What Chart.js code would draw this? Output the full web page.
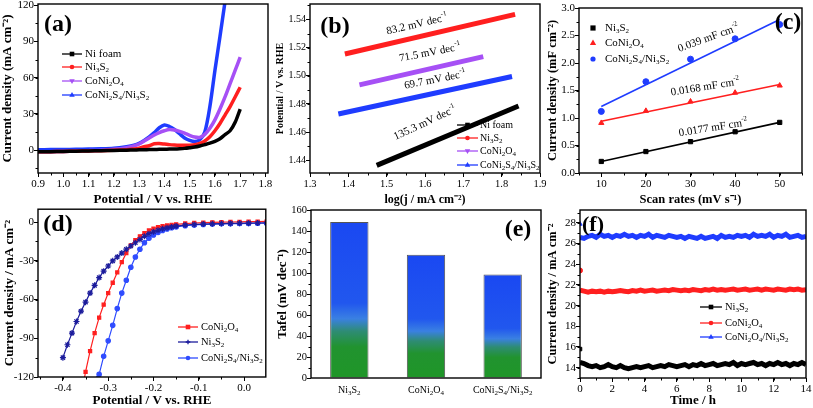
<!DOCTYPE html>
<html lang="en">
<head>
<meta charset="UTF-8">
<title>Electrocatalyst panels</title>
<script src="https://cdn.jsdelivr.net/npm/chart.js"></script>
<style>
    body { margin: 0; background: #fff; }
    #wrap { position: relative; width: 813px; height: 408px; overflow: hidden; }
    canvas { position: absolute; }
</style>
</head>
<body>
<div id="wrap">
    <canvas id="cA" width="280" height="210" style="left:0;top:0"></canvas>
    <canvas id="cB" width="280" height="210" style="left:271px;top:0"></canvas>
    <canvas id="cC" width="271" height="210" style="left:542px;top:0"></canvas>
    <canvas id="cD" width="271" height="204" style="left:0;top:204px"></canvas>
    <canvas id="cE" width="271" height="204" style="left:271px;top:204px"></canvas>
    <canvas id="cF" width="271" height="204" style="left:542px;top:204px"></canvas>
</div>
<script>
// (a) LSV curves
const potA = [0.90,0.95,1.00,1.05,1.10,1.15,1.20,1.25,1.28,1.30,1.32,1.34,1.36,1.38,1.40,1.42,1.44,1.46,1.48,1.50,1.52,1.54,1.56,1.58,1.60,1.62,1.64,1.66,1.68,1.70];
const niFoamA = [-1.5,-1.3,-1.1,-0.9,-0.7,-0.5,-0.3,-0.1,0.1,0.2,0.3,0.4,0.5,0.6,0.7,0.8,0.9,1.1,1.4,1.9,2.5,3.4,4.5,5.7,7.2,9.4,12.8,16,23,34];
const ni3s2A = [-1.5,-1.3,-1.1,-0.9,-0.7,-0.5,-0.2,0.3,0.8,1.5,2.8,3.6,5.2,5.4,5.0,4.5,4.2,4.0,3.9,4.0,4.4,5.5,7.5,11,16,22,29,36,44,52];
const coNi2O4A = [-1.5,-1.3,-1.1,-0.8,-0.5,-0.1,0.6,2.0,3.5,5,7.5,10,12.5,14.5,16,17,16.6,15.5,14,12.2,10.8,10.5,13,18,25,34,44,55,66,77];
const potBlueA = [0.90,0.95,1.00,1.05,1.10,1.15,1.20,1.25,1.28,1.30,1.32,1.34,1.36,1.38,1.40,1.42,1.44,1.46,1.48,1.50,1.52,1.54,1.56,1.58,1.60,1.62,1.64];
const coNi2S4A = [0.3,0.4,0.5,0.6,0.8,1.0,1.5,2.8,4.0,5.5,8,11,14.5,18.5,20.7,19.5,17,13.5,10,8,7,8.5,15,36,66,94,123];
const ticksAx = [0.9,1.0,1.1,1.2,1.3,1.4,1.5,1.6,1.7,1.8];
const ticksAy = [0,30,60,90,120];

// (b) Tafel lines (start, end)
const tafX_ni = [1.474, 1.844], tafY_ni = [1.4364, 1.4786];
const tafX_ni3s2 = [1.391, 1.835], tafY_ni3s2 = [1.5155, 1.5436];
const tafX_coO = [1.429, 1.752], tafY_coO = [1.4936, 1.5136];
const tafX_coS = [1.374, 1.827], tafY_coS = [1.4729, 1.4995];
const ticksBx = [1.3,1.4,1.5,1.6,1.7,1.8,1.9];
const ticksBy = [1.44,1.46,1.48,1.50,1.52,1.54];

// (c) double layer capacitance
const scan = [10,20,30,40,50];
const capNi3S2 = [0.21,0.39,0.57,0.75,0.92];
const capCoO = [0.91,1.13,1.30,1.46,1.59];
const capCoS = [1.12,1.66,2.07,2.44,2.70];
const fitX = [10,50];
const fitNi3S2 = [0.21,0.92];
const fitCoO = [0.94,1.61];
const fitCoS = [1.21,2.79];
const ticksCx = [10,20,30,40,50];
const ticksCy = [0,0.5,1.0,1.5,2.0,2.5,3.0];

// (d) HER polarization
const potD_coO = [-0.353,-0.35,-0.34,-0.33,-0.32,-0.31,-0.30,-0.29,-0.28,-0.27,-0.26,-0.25,-0.24,-0.23,-0.22,-0.21,-0.20,-0.19,-0.18,-0.17,-0.16,-0.15,-0.13,-0.11,-0.09,-0.07,-0.05,-0.03,-0.01,0.01,0.03,0.05];
const herCoO = [-122,-116,-100,-86,-74,-64,-55,-47,-39,-31,-24,-18,-14,-11,-8.5,-6.5,-5,-4,-3.2,-2.6,-2.1,-1.7,-1.1,-0.7,-0.4,-0.2,0,0.1,0.2,0.3,0.4,0.5];
const potD_ni3s2 = [-0.40,-0.39,-0.38,-0.37,-0.36,-0.35,-0.34,-0.33,-0.32,-0.31,-0.30,-0.29,-0.28,-0.27,-0.26,-0.25,-0.24,-0.23,-0.22,-0.21,-0.20,-0.19,-0.18,-0.17,-0.16,-0.15,-0.13,-0.11,-0.09,-0.07,-0.05,-0.03,-0.01,0.01,0.03,0.05];
const herNi3S2 = [-105,-95,-86,-77,-69,-62,-55,-49,-43,-38,-34,-30,-27,-24,-21,-18.5,-16,-13.5,-11,-9,-7.5,-6.3,-5.2,-4.4,-3.7,-3.1,-2.3,-1.8,-1.5,-1.3,-1.1,-1.0,-0.9,-0.8,-0.7,-0.6];
const potD_coS = [-0.322,-0.32,-0.31,-0.30,-0.29,-0.28,-0.27,-0.26,-0.25,-0.24,-0.23,-0.22,-0.21,-0.20,-0.19,-0.18,-0.17,-0.16,-0.15,-0.13,-0.11,-0.09,-0.07,-0.05,-0.03,-0.01,0.01,0.03,0.05];
const herCoS = [-121,-118,-104,-92,-80,-67,-55,-45,-35,-27,-21,-16,-12.5,-10,-8,-6.5,-5.3,-4.4,-3.7,-2.8,-2.2,-1.8,-1.5,-1.3,-1.2,-1.1,-1.0,-0.9,-0.8];
const ticksDx = [-0.4,-0.3,-0.2,-0.1,0.0];
const ticksDy = [-120,-90,-60,-30,0];

// (e) Tafel slopes
const tafelCats = ['Ni_3S_2', 'CoNi_2O_4', 'CoNi_2S_4/Ni_3S_2'];
const tafelVals = [148.5, 117.5, 98.5];
const ticksEy = [0,20,40,60,80,100,120,140,160];

// (f) stability
const times = [0,0.25,0.5,0.75,1,1.25,1.5,1.75,2,2.25,2.5,2.75,3,3.25,3.5,3.75,4,4.25,4.5,4.75,5,5.25,5.5,5.75,6,6.25,6.5,6.75,7,7.25,7.5,7.75,8,8.25,8.5,8.75,9,9.25,9.5,9.75,10,10.25,10.5,10.75,11,11.25,11.5,11.75,12,12.25,12.5,12.75,13,13.25,13.5,13.75,14];
const stabNi3S2 = [14.5,14.4,14.2,14.1,14.2,14.0,14.1,14.3,14.1,14.0,14.2,14.0,13.9,14.0,14.1,14.0,14.1,14.2,14.0,14.1,14.2,14.1,14.3,14.2,14.1,14.2,14.3,14.1,14.3,14.2,14.4,14.2,14.3,14.4,14.2,14.3,14.4,14.3,14.5,14.2,14.4,14.3,14.4,14.5,14.3,14.4,14.2,14.4,14.3,14.5,14.3,14.4,14.2,14.4,14.3,14.5,14.3];
const stabCoO = [21.5,21.4,21.3,21.4,21.35,21.4,21.3,21.4,21.35,21.4,21.45,21.4,21.35,21.45,21.4,21.5,21.4,21.45,21.5,21.4,21.45,21.5,21.45,21.55,21.5,21.45,21.5,21.45,21.55,21.5,21.45,21.55,21.5,21.6,21.5,21.55,21.5,21.55,21.6,21.5,21.55,21.6,21.5,21.55,21.6,21.5,21.6,21.55,21.5,21.6,21.55,21.5,21.6,21.55,21.6,21.5,21.55];
const stabCoS = [26.6,26.5,26.7,26.8,26.6,26.9,26.7,26.8,26.6,26.8,26.7,26.9,26.7,26.8,26.6,26.8,26.7,26.9,26.6,26.8,26.7,26.6,26.8,26.7,26.6,26.7,26.5,26.7,26.6,26.5,26.7,26.5,26.6,26.7,26.5,26.8,26.6,26.7,26.6,26.8,26.7,26.8,26.6,26.9,26.7,26.8,26.7,26.9,26.6,26.8,26.7,26.9,26.6,26.7,26.8,26.6,26.7];
const spikeT = [0];
const spikeNi3S2 = [15.8], spikeCoO = [23.4], spikeCoS = [27.9];
const ticksFx = [0,2,4,6,8,10,12,14];
const ticksFy = [14,16,18,20,22,24,26,28];

const FONT = "'Liberation Serif', 'Times New Roman', serif";
Chart.defaults.font.family = FONT;
Chart.defaults.color = '#000';

const pts = (xs, ys) => xs.map((x, i) => ({ x: x, y: ys[i] }));

// text with _x / ^{..} sub and superscripts
function parseRich(s) {
    const segs = [];
    let i = 0;
    while (i < s.length) {
        const c = s[i];
        if (c === '_' || c === '^') {
            let t;
            if (s[i + 1] === '{') { const j = s.indexOf('}', i); t = s.slice(i + 2, j); i = j + 1; }
            else { t = s[i + 1]; i += 2; }
            segs.push({ t: t, k: c });
        } else {
            let j = i;
            while (j < s.length && s[j] !== '_' && s[j] !== '^') j++;
            segs.push({ t: s.slice(i, j), k: '' });
            i = j;
        }
    }
    return segs;
}

function drawRich(ctx, s, x, y, size, o) {
    const segs = parseRich(s);
    const w = o.bold ? 'bold ' : '';
    const small = Math.round(size * 0.68);
    let total = 0;
    segs.forEach(g => {
        ctx.font = w + (g.k ? small : size) + 'px ' + FONT;
        g.w = ctx.measureText(g.t).width;
        total += g.w;
    });
    ctx.save();
    ctx.translate(x, y);
    if (o.rot) ctx.rotate(o.rot * Math.PI / 180);
    let cx = o.align === 'left' ? 0 : -total / 2;
    ctx.textBaseline = 'middle';
    ctx.textAlign = 'left';
    ctx.fillStyle = o.color || '#000';
    segs.forEach(g => {
        ctx.font = w + (g.k ? small : size) + 'px ' + FONT;
        const dy = g.k === '_' ? size * 0.3 : (g.k === '^' ? -size * 0.38 : 0);
        ctx.fillText(g.t, cx, dy);
        cx += g.w;
    });
    ctx.restore();
}

function marker(ctx, style, x, y, r, color) {
    ctx.fillStyle = color;
    ctx.strokeStyle = color;
    ctx.beginPath();
    if (style === 'rect') ctx.rect(x - r, y - r, 2 * r, 2 * r);
    else if (style === 'circle') ctx.arc(x, y, r, 0, Math.PI * 2);
    else if (style === 'triangle') { ctx.moveTo(x, y - r * 1.3); ctx.lineTo(x + r * 1.2, y + r * 0.8); ctx.lineTo(x - r * 1.2, y + r * 0.8); ctx.closePath(); }
    else if (style === 'tridown') { ctx.moveTo(x, y + r * 1.3); ctx.lineTo(x + r * 1.2, y - r * 0.8); ctx.lineTo(x - r * 1.2, y - r * 0.8); ctx.closePath(); }
    else if (style === 'star') {
        ctx.lineWidth = 1.3;
        ctx.moveTo(x - r, y); ctx.lineTo(x + r, y); ctx.moveTo(x, y - r); ctx.lineTo(x, y + r);
        ctx.stroke();
        return;
    }
    ctx.fill();
}

// frame, minor ticks, labels and legend drawn on top of each panel
function deco(cfg) {
    return {
        id: 'deco',
        afterDraw(ch) {
            const c = ch.ctx, a = ch.chartArea;
            c.save();
            c.strokeStyle = '#000';
            c.lineWidth = 1;
            if (cfg.minorX) {
                const s = ch.scales.x;
                for (let k = Math.ceil(s.min / cfg.minorX - 1e-6); k * cfg.minorX <= s.max + 1e-9; k++) {
                    const p = Math.round(s.getPixelForValue(k * cfg.minorX)) + 0.5;
                    c.beginPath(); c.moveTo(p, a.bottom); c.lineTo(p, a.bottom + 2.5); c.stroke();
                }
            }
            if (cfg.minorY) {
                const s = ch.scales.y;
                for (let k = Math.ceil(s.min / cfg.minorY - 1e-6); k * cfg.minorY <= s.max + 1e-9; k++) {
                    const p = Math.round(s.getPixelForValue(k * cfg.minorY)) + 0.5;
                    c.beginPath(); c.moveTo(a.left, p); c.lineTo(a.left - 2.5, p); c.stroke();
                }
            }
            c.lineWidth = 1.4;
            c.strokeRect(a.left, a.top, a.right - a.left, a.bottom - a.top);
            const lg = cfg.legend;
            if (lg) {
                lg.items.forEach((it, i) => {
                    const y = lg.ys[i];
                    if (lg.len) {
                        c.strokeStyle = it.color; c.lineWidth = 1.3;
                        c.beginPath(); c.moveTo(lg.x, y); c.lineTo(lg.x + lg.len, y); c.stroke();
                        marker(c, it.pt, lg.x + lg.len / 2, y, 2.3, it.color);
                    } else {
                        marker(c, it.pt, lg.x, y, 2.6, it.color);
                    }
                    drawRich(c, it.t, lg.tx, y, lg.size, { align: 'left' });
                });
            }
            (cfg.notes || []).forEach(n => {
                const x = n.dx !== undefined ? ch.scales.x.getPixelForValue(n.dx) : n.x;
                const y = n.dy !== undefined ? ch.scales.y.getPixelForValue(n.dy) : n.y;
                drawRich(c, n.t, x, y, n.size || 11, { bold: n.bold, rot: n.rot, color: n.color });
            });
            c.restore();
        }
    };
}

function ax(o) {
    const t = {
        type: o.type || 'linear',
        afterFit: s => {
            if (o.w !== undefined) s.width = o.w;
            if (o.h !== undefined) s.height = o.h;
            s.paddingLeft = 0; s.paddingRight = 0; s.paddingTop = 0; s.paddingBottom = 0;
        },
        grid: { drawOnChartArea: false, drawTicks: !o.noTicks, color: '#000', tickLength: 4 },
        border: { display: false },
        ticks: { display: !o.noLabels, color: '#000', font: { size: o.fs || 11 }, padding: o.tp !== undefined ? o.tp : 1, maxRotation: 0, autoSkip: false },
        title: { display: !!o.title, text: o.title || '', color: '#000', font: { size: o.ts || 13, weight: 'bold' },
                 padding: o.w !== undefined ? { top: o.tpad || 0, bottom: 0 } : { top: 0, bottom: o.tpad || 0 } }
    };
    if (o.min !== undefined) t.min = o.min;
    if (o.max !== undefined) t.max = o.max;
    if (o.ticks) t.afterBuildTicks = s => { s.ticks = o.ticks.map(v => ({ value: v })); };
    if (o.fmt) t.ticks.callback = o.fmt;
    return t;
}

function opts(pad, xs, ys) {
    return {
        responsive: false, animation: false, devicePixelRatio: 1,
        layout: { padding: { top: pad.top, right: pad.right, left: 0, bottom: 0 } },
        scales: { x: xs, y: ys },
        plugins: { legend: { display: false }, tooltip: { enabled: false } }
    };
}

const f1 = v => v.toFixed(1), f2 = v => v.toFixed(2), f0 = v => String(v);
const BLK = '#000000', RED = '#ff1f1f', PUR = '#a650f5', BLU = '#1f3cff', NAVY = '#1c1c9c';

// (a)
const lineA = (label, xs, ys, col) => ({ label: label, data: pts(xs, ys), showLine: true, borderColor: col, backgroundColor: col, borderWidth: 3.5, pointRadius: 0, tension: 0.3 });
new Chart(document.getElementById('cA'), {
    type: 'scatter',
    data: { datasets: [
        lineA('Ni foam', potA, niFoamA, BLK),
        lineA('Ni3S2', potA, ni3s2A, RED),
        lineA('CoNi2O4', potA, coNi2O4A, PUR),
        lineA('CoNi2S4/Ni3S2', potBlueA, coNi2S4A, BLU)
    ] },
    options: opts({ top: 4, right: 12 },
        ax({ min: 0.9, max: 1.81, ticks: ticksAx, fmt: f1, h: 37, title: 'Potential / V vs. RHE', tpad: 3 }),
        ax({ min: -19, max: 121, ticks: ticksAy, fmt: f0, w: 38, tp: 0, title: 'Current density (mA cm⁻²)' })),
    plugins: [deco({
        minorX: 0.05, minorY: 15,
        legend: { x: 62, len: 20, tx: 85, size: 11, ys: [54, 67, 81, 95], items: [
            { t: 'Ni foam', color: BLK, pt: 'rect' },
            { t: 'Ni_3S_2', color: RED, pt: 'circle' },
            { t: 'CoNi_2O_4', color: PUR, pt: 'tridown' },
            { t: 'CoNi_2S_4/Ni_3S_2', color: BLU, pt: 'triangle' }
        ] },
        notes: [{ t: '(a)', x: 58, y: 25, size: 24, bold: true }]
    })]
});

// (b)
const lineB = (xs, ys, col) => ({ data: pts(xs, ys), showLine: true, borderColor: col, borderWidth: 5, pointRadius: 0 });
new Chart(document.getElementById('cB'), {
    type: 'scatter',
    data: { datasets: [
        lineB(tafX_ni, tafY_ni, BLK),
        lineB(tafX_ni3s2, tafY_ni3s2, RED),
        lineB(tafX_coO, tafY_coO, PUR),
        lineB(tafX_coS, tafY_coS, BLU)
    ] },
    options: opts({ top: 4, right: 11 },
        ax({ min: 1.3, max: 1.9, ticks: ticksBx, fmt: f1, h: 37, fs: 10.5, ts: 12, title: 'log(j / mA cm⁻²)', tpad: 3 }),
        ax({ min: 1.431, max: 1.551, ticks: ticksBy, fmt: f2, w: 39, fs: 10, tp: 0, ts: 10, tpad: 3, title: 'Potential / V vs. RHE' })),
    plugins: [deco({
        minorX: 0.05, minorY: 0.01,
        legend: { x: 186, len: 21, tx: 209, size: 10, ys: [125, 138, 151, 165], items: [
            { t: 'Ni foam', color: BLK, pt: 'rect' },
            { t: 'Ni_3S_2', color: RED, pt: 'circle' },
            { t: 'CoNi_2O_4', color: PUR, pt: 'tridown' },
            { t: 'CoNi_2S_4/Ni_3S_2', color: BLU, pt: 'triangle' }
        ] },
        notes: [
            { t: '(b)', x: 64, y: 27, size: 24, bold: true },
            { t: '83.2 mV dec^{-1}', dx: 1.579, dy: 1.5364, rot: -13, size: 11 },
            { t: '71.5 mV dec^{-1}', dx: 1.613, dy: 1.5164, rot: -11, size: 11 },
            { t: '69.7 mV dec^{-1}', dx: 1.626, dy: 1.4971, rot: -11, size: 11 },
            { t: '135.3 mV dec^{-1}', dx: 1.600, dy: 1.4664, rot: -25, size: 11 }
        ]
    })]
});

// (c)
const dotC = (xs, ys, col, st) => ({ data: pts(xs, ys), showLine: false, backgroundColor: col, borderColor: col, pointStyle: st, pointRadius: 3 });
const fitC = (xs, ys, col) => ({ data: pts(xs, ys), showLine: true, borderColor: col, borderWidth: 1.6, pointRadius: 0 });
new Chart(document.getElementById('cC'), {
    type: 'scatter',
    data: { datasets: [
        fitC(fitX, fitNi3S2, BLK), fitC(fitX, fitCoO, RED), fitC(fitX, fitCoS, BLU),
        dotC(scan, capNi3S2, BLK, 'rect'),
        dotC(scan, capCoO, RED, 'triangle'),
        dotC(scan, capCoS, BLU, 'circle')
    ] },
    options: opts({ top: 8, right: 11 },
        ax({ min: 5, max: 55, ticks: ticksCx, fmt: f0, h: 37, ts: 12.5, title: 'Scan rates (mV s⁻¹)', tpad: 3 }),
        ax({ min: 0, max: 3, ticks: ticksCy, fmt: f1, w: 37, tp: 0, ts: 12.5, tpad: 3, title: 'Current density (mF cm⁻²)' })),
    plugins: [deco({
        minorX: 5, minorY: 0.25,
        legend: { x: 51, tx: 63, size: 11, ys: [28, 43, 59], items: [
            { t: 'Ni_3S_2', color: BLK, pt: 'rect' },
            { t: 'CoNi_2O_4', color: RED, pt: 'triangle' },
            { t: 'CoNi_2S_4/Ni_3S_2', color: BLU, pt: 'circle' }
        ] },
        notes: [
            { t: '(c)', x: 246, y: 23, size: 24, bold: true },
            { t: '0.039 mF cm^{-2}', dx: 34, dy: 2.45, rot: -20, size: 11 },
            { t: '0.0168 mF cm^{-2}', dx: 33.3, dy: 1.56, rot: -9, size: 11 },
            { t: '0.0177 mF cm^{-2}', dx: 35.1, dy: 0.82, rot: -9, size: 11 }
        ]
    })]
});

// (d)
const lineD = (xs, ys, col, st, r) => ({ data: pts(xs, ys), showLine: true, borderColor: col, backgroundColor: col, borderWidth: 1.2, pointStyle: st, pointRadius: r, pointBorderWidth: 1.2 });
new Chart(document.getElementById('cD'), {
    type: 'scatter',
    data: { datasets: [
        lineD(potD_ni3s2, herNi3S2, NAVY, 'star', 3),
        lineD(potD_coO, herCoO, RED, 'rect', 2.2),
        lineD(potD_coS, herCoS, '#2f4cff', 'circle', 2.2)
    ] },
    options: opts({ top: 4, right: 3 },
        ax({ min: -0.455, max: 0.048, ticks: ticksDx, fmt: f1, h: 31, title: 'Potential / V vs. RHE', tpad: 0 }),
        ax({ min: -120, max: 10, ticks: ticksDy, fmt: f0, w: 38, tp: 0, tpad: 2, title: 'Current density / mA cm⁻²' })),
    plugins: [deco({
        minorX: 0.05, minorY: 15,
        legend: { x: 178, len: 20, tx: 201, size: 10.5, ys: [123, 138, 154], items: [
            { t: 'CoNi_2O_4', color: RED, pt: 'rect' },
            { t: 'Ni_3S_2', color: NAVY, pt: 'star' },
            { t: 'CoNi_2S_4/Ni_3S_2', color: '#2f4cff', pt: 'circle' }
        ] },
        notes: [{ t: '(d)', x: 58, y: 21, size: 24, bold: true }]
    })]
});

// (e)
function barFill(ctx) {
    const ch = ctx.chart;
    if (!ch.chartArea || ctx.dataIndex === undefined) return '#1f50f0';
    const top = ch.scales.y.getPixelForValue(tafelVals[ctx.dataIndex]);
    const bot = ch.scales.y.getPixelForValue(0);
    const g = ch.ctx.createLinearGradient(0, top, 0, bot);
    g.addColorStop(0, '#1a48f2');
    g.addColorStop(0.52, '#2157ee');
    g.addColorStop(0.62, '#3a80e2');
    g.addColorStop(0.7, '#2e8c74');
    g.addColorStop(0.8, '#21932f');
    g.addColorStop(1, '#1f9628');
    return g;
}
new Chart(document.getElementById('cE'), {
    type: 'bar',
    data: { labels: tafelCats, datasets: [{ data: tafelVals, backgroundColor: barFill, borderColor: '#555', borderWidth: 1, barPercentage: 0.5, categoryPercentage: 1 }] },
    options: opts({ top: 6, right: 1 },
        ax({ type: 'category', h: 30, noLabels: true, noTicks: true }),
        ax({ min: 0, max: 160, ticks: ticksEy, fmt: f0, w: 40, fs: 10.5, tp: 0, tpad: 4, title: 'Tafel (mV dec⁻¹)' })),
    plugins: [deco({
        minorY: 10,
        notes: [
            { t: '(e)', x: 247, y: 26, size: 24, bold: true },
            { t: tafelCats[0], dx: 0, y: 186, size: 10 },
            { t: tafelCats[1], dx: 1, y: 186, size: 10 },
            { t: tafelCats[2], dx: 2, y: 186, size: 10 }
        ]
    })]
});

// (f)
const bandF = (ys, col) => ({ data: pts(times, ys), showLine: true, borderColor: col, borderWidth: 5, pointRadius: 0 });
const spikeF = (ys, col, st) => ({ data: pts(spikeT, ys), showLine: false, backgroundColor: col, borderColor: col, pointStyle: st, pointRadius: 2.5 });
new Chart(document.getElementById('cF'), {
    type: 'scatter',
    data: { datasets: [
        bandF(stabNi3S2, BLK), bandF(stabCoO, RED), bandF(stabCoS, BLU),
        spikeF(spikeNi3S2, BLK, 'rect'), spikeF(spikeCoO, RED, 'circle'), spikeF(spikeCoS, BLU, 'triangle')
    ] },
    options: opts({ top: 6, right: 7 },
        ax({ min: 0, max: 14, ticks: ticksFx, fmt: f0, h: 30, title: 'Time / h', tpad: 0 }),
        ax({ min: 13, max: 29.25, ticks: ticksFy, fmt: f0, w: 38, tp: 0, ts: 12.5, tpad: 3, title: 'Current density / mA cm⁻²' })),
    plugins: [deco({
        minorX: 1, minorY: 1,
        legend: { x: 158, len: 22, tx: 183, size: 10.5, ys: [103, 119, 133], items: [
            { t: 'Ni_3S_2', color: BLK, pt: 'rect' },
            { t: 'CoNi_2O_4', color: RED, pt: 'circle' },
            { t: 'CoNi_2O_4/Ni_3S_2', color: BLU, pt: 'triangle' }
        ] },
        notes: [{ t: '(f)', x: 51, y: 21, size: 22, bold: true }]
    })]
});
</script>
</body>
</html>
